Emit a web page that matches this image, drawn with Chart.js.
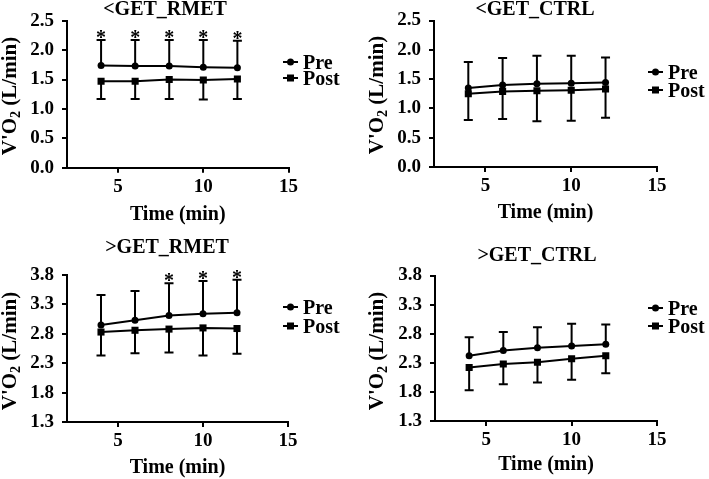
<!DOCTYPE html>
<html lang="en">
<head>
  <meta charset="UTF-8" />
  <title>V'O2 Pre / Post</title>
  <script src="https://cdn.jsdelivr.net/npm/chart.js"></script>
  <style>
    body { margin: 0; padding: 0; background: #fff; }
    #wrap { position: relative; width: 709px; height: 479px; overflow: hidden; }
    #wrap canvas { position: absolute; }
  </style>
</head>
<body>
  <div id="wrap">
    <canvas id="c1" width="367" height="230" style="left:0;top:0"></canvas>
    <canvas id="c2" width="342" height="230" style="left:367px;top:0"></canvas>
    <canvas id="c3" width="367" height="249" style="left:0;top:230px"></canvas>
    <canvas id="c4" width="342" height="249" style="left:367px;top:230px"></canvas>
  </div>

  <script>
    // data
    const times = [4, 6, 8, 10, 12];
    const xTicks = [5, 10, 15];
    const yTicksLow = [0, 0.5, 1.0, 1.5, 2.0, 2.5];
    const yTicksHigh = [1.3, 1.8, 2.3, 2.8, 3.3, 3.8];
    const seriesNames = ['Pre', 'Post'];
    const panelTitles = ['<GET_RMET', '<GET_CTRL', '>GET_RMET', '>GET_CTRL'];

    // <GET_RMET
    const preA = [1.74, 1.73, 1.73, 1.71, 1.70];
    const postA = [1.47, 1.47, 1.50, 1.49, 1.51];
    const preUpA = [2.17, 2.17, 2.17, 2.17, 2.16];
    const postLowA = [1.17, 1.17, 1.17, 1.16, 1.17];
    const sigA = [true, true, true, true, true];

    // <GET_CTRL
    const preB = [1.35, 1.40, 1.42, 1.43, 1.44];
    const postB = [1.25, 1.29, 1.30, 1.31, 1.33];
    const preUpB = [1.79, 1.86, 1.90, 1.90, 1.87];
    const postLowB = [0.80, 0.82, 0.78, 0.79, 0.84];
    const sigB = [false, false, false, false, false];

    // >GET_RMET
    const preC = [2.95, 3.03, 3.11, 3.14, 3.16];
    const postC = [2.83, 2.86, 2.88, 2.90, 2.89];
    const preUpC = [3.46, 3.53, 3.66, 3.70, 3.72];
    const postLowC = [2.43, 2.47, 2.48, 2.43, 2.46];
    const sigC = [false, false, true, true, true];

    // >GET_CTRL
    const preD = [2.42, 2.51, 2.56, 2.59, 2.62];
    const postD = [2.22, 2.28, 2.31, 2.37, 2.42];
    const preUpD = [2.74, 2.83, 2.91, 2.97, 2.96];
    const postLowD = [1.83, 1.93, 1.96, 2.01, 2.12];
    const sigD = [false, false, false, false, false];

    const SERIF = '"Liberation Serif", "Times New Roman", "DejaVu Serif", serif';

    // every panel: chart area edges + where the texts sit (canvas px)
    const panels = [
      { id: 'c1', title: panelTitles[0], pre: preA, post: postA, up: preUpA, low: postLowA, sig: sigA, yTicks: yTicksLow,
        area: { l: 67, r: 288.5, t: 20.7, b: 167.7 }, titleX: 165, titleY: 15, yTitleY: 96, xTitleY: 220, legX: 283, legPre: 62, legPost: 78 },
      { id: 'c2', title: panelTitles[1], pre: preB, post: postB, up: preUpB, low: postLowB, sig: sigB, yTicks: yTicksLow,
        area: { l: 67, r: 290, t: 20.5, b: 167 }, titleX: 168, titleY: 15, yTitleY: 95, xTitleY: 218, legX: 281, legPre: 72, legPost: 90 },
      { id: 'c3', title: panelTitles[2], pre: preC, post: postC, up: preUpC, low: postLowC, sig: sigC, yTicks: yTicksHigh,
        area: { l: 67, r: 288, t: 45, b: 192 }, titleX: 167, titleY: 23, yTitleY: 121, xTitleY: 243, legX: 283, legPre: 77, legPost: 96 },
      { id: 'c4', title: panelTitles[3], pre: preD, post: postD, up: preUpD, low: postLowD, sig: sigD, yTicks: yTicksHigh,
        area: { l: 68, r: 290, t: 45.5, b: 191 }, titleX: 170, titleY: 31, yTitleY: 121, xTitleY: 240, legX: 281, legPre: 78, legPost: 96 }
    ];

    function drawMarker(ctx, style, x, y) {
      ctx.beginPath();
      if (style === 'circle') ctx.arc(x, y, 3.5, 0, Math.PI * 2);
      else ctx.rect(x - 3.5, y - 3.5, 7, 7);
      ctx.fill();
    }

    function decor(p) {
      return {
        id: 'decor',
        beforeDatasetsDraw(chart) {
          const ctx = chart.ctx, xs = chart.scales.x, ys = chart.scales.y;
          ctx.save();
          ctx.strokeStyle = '#000';
          ctx.fillStyle = '#000';
          ctx.lineWidth = 2;
          times.forEach((t, i) => {
            const x = xs.getPixelForValue(t);
            // Pre: upper half of the error bar
            const y0 = ys.getPixelForValue(p.pre[i]);
            const yu = ys.getPixelForValue(p.up[i]);
            ctx.beginPath();
            ctx.moveTo(x, y0); ctx.lineTo(x, yu);
            ctx.moveTo(x - 4.5, yu); ctx.lineTo(x + 4.5, yu);
            ctx.stroke();
            // Post: lower half
            const y1 = ys.getPixelForValue(p.post[i]);
            const yl = ys.getPixelForValue(p.low[i]);
            ctx.beginPath();
            ctx.moveTo(x, y1); ctx.lineTo(x, yl);
            ctx.moveTo(x - 4.5, yl); ctx.lineTo(x + 4.5, yl);
            ctx.stroke();
            if (p.sig[i]) {
              ctx.font = 'bold 20px ' + SERIF;
              ctx.textAlign = 'center';
              ctx.textBaseline = 'alphabetic';
              ctx.fillText('*', x, yu + 4);
            }
          });
          ctx.restore();
        },
        afterDraw(chart) {
          const ctx = chart.ctx, a = chart.chartArea;
          ctx.save();
          ctx.fillStyle = '#000';
          ctx.strokeStyle = '#000';
          ctx.textBaseline = 'alphabetic';

          // panel title
          ctx.font = 'bold 20px ' + SERIF;
          ctx.textAlign = 'center';
          ctx.fillText(p.title, p.titleX, p.titleY);

          // x title
          ctx.font = 'bold 20px ' + SERIF;
          ctx.fillText('Time (min)', (a.left + a.right) / 2, p.xTitleY);

          // y title with subscript 2
          ctx.save();
          ctx.translate(16, p.yTitleY);
          ctx.rotate(-Math.PI / 2);
          const big = 'bold 21px ' + SERIF, small = 'bold 14px ' + SERIF;
          ctx.font = big;
          const w1 = ctx.measureText("V'O").width, w3 = ctx.measureText(' (L/min)').width;
          ctx.font = small;
          const w2 = ctx.measureText('2').width;
          let x = -(w1 + w2 + w3) / 2;
          ctx.textAlign = 'left';
          ctx.font = big; ctx.fillText("V'O", x, 0); x += w1;
          ctx.font = small; ctx.fillText('2', x, 4); x += w2;
          ctx.font = big; ctx.fillText(' (L/min)', x, 0);
          ctx.restore();

          // legend
          ctx.lineWidth = 2;
          ctx.font = 'bold 20px ' + SERIF;
          ctx.textAlign = 'left';
          [[p.legPre, 'circle', seriesNames[0]], [p.legPost, 'rect', seriesNames[1]]].forEach(([y, st, name]) => {
            ctx.beginPath();
            ctx.moveTo(p.legX, y); ctx.lineTo(p.legX + 15, y);
            ctx.stroke();
            drawMarker(ctx, st, p.legX + 7.5, y);
            ctx.fillText(name, p.legX + 20, y + 6.5);
          });
          ctx.restore();
        }
      };
    }

    panels.forEach(p => {
      const canvas = document.getElementById(p.id);
      const W = canvas.width, H = canvas.height;
      const tickFont = { family: SERIF, size: 19, weight: 'bold' };
      new Chart(canvas, {
        type: 'line',
        data: {
          datasets: [
            { label: seriesNames[0], data: times.map((t, i) => ({ x: t, y: p.pre[i] })),
              borderColor: '#000', backgroundColor: '#000', borderWidth: 2,
              pointStyle: 'circle', pointRadius: 3.5, pointBorderWidth: 0, tension: 0 },
            { label: seriesNames[1], data: times.map((t, i) => ({ x: t, y: p.post[i] })),
              borderColor: '#000', backgroundColor: '#000', borderWidth: 2,
              pointStyle: 'rect', pointRadius: 5, pointBorderWidth: 0, tension: 0 }
          ]
        },
        options: {
          responsive: false,
          animation: false,
          layout: { padding: { left: 0, right: W - p.area.r, top: p.area.t, bottom: 0 } },
          plugins: { legend: { display: false }, tooltip: { enabled: false } },
          scales: {
            x: {
              type: 'linear', min: 2, max: 15,
              afterBuildTicks: s => { s.ticks = xTicks.map(v => ({ value: v })); },
              afterFit: s => { s.height = H - p.area.b; },
              grid: { drawOnChartArea: false, drawTicks: true, tickLength: 5, color: '#000', lineWidth: 2 },
              border: { display: true, color: '#000', width: 2 },
              ticks: { color: '#000', font: tickFont, padding: 3, maxRotation: 0, callback: v => String(v) }
            },
            y: {
              type: 'linear', min: p.yTicks[0], max: p.yTicks[p.yTicks.length - 1],
              afterBuildTicks: s => { s.ticks = p.yTicks.map(v => ({ value: v })); },
              afterFit: s => { s.width = p.area.l; },
              grid: { drawOnChartArea: false, drawTicks: true, tickLength: 5, color: '#000', lineWidth: 2 },
              border: { display: true, color: '#000', width: 2 },
              ticks: { color: '#000', font: tickFont, padding: 8, callback: v => Number(v).toFixed(1) }
            }
          }
        },
        plugins: [decor(p)]
      });
    });
  </script>
</body>
</html>
